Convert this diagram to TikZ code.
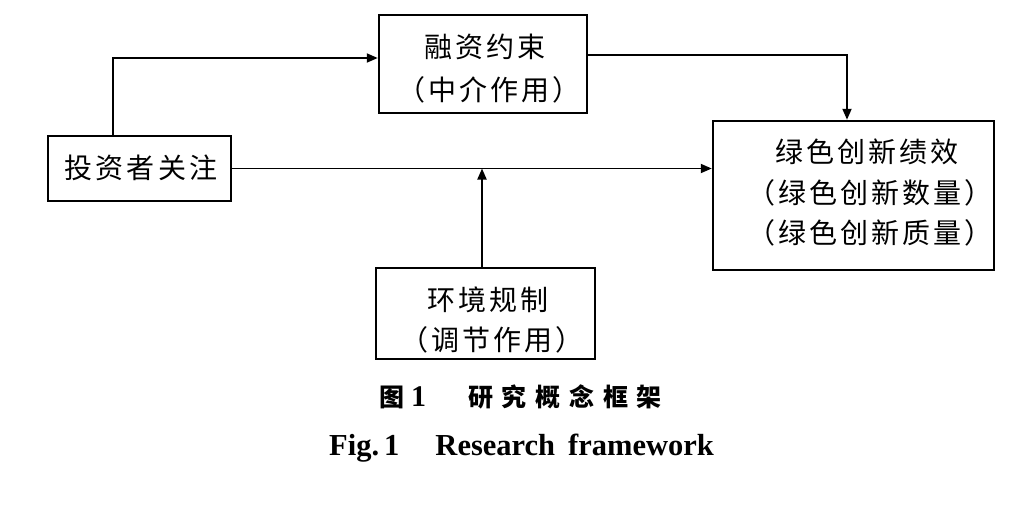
\documentclass[tikz,border=0pt]{standalone}
\usepackage{fontspec}
\setmainfont{Liberation Serif}
\newfontfamily\cjk[LetterSpace=11]{Noto Sans CJK SC}
\newfontfamily\cjkcap[LetterSpace=35]{Noto Sans CJK SC}
\usetikzlibrary{arrows.meta}
\begin{document}
\begin{tikzpicture}[x=1pt,y=-1pt,
  box/.style={draw, line width=2.5pt, inner sep=0pt},
  lbl/.style={inner sep=0pt, font=\cjk\fontsize{28}{32}\selectfont},
  arr/.style={line width=1.9pt, -{Triangle[length=11pt,width=9pt]}}]
\useasboundingbox (0,0) rectangle (1036,504);
% boxes
\node[box, minimum width=208pt, minimum height=98pt] (fin) at (483,64) {};
\node[box, minimum width=183pt, minimum height=65pt] (inv) at (139.5,168.5) {};
\node[box, minimum width=281pt, minimum height=149pt] (green) at (853.5,195.5) {};
\node[box, minimum width=219pt, minimum height=91pt] (env) at (485.5,313.5) {};
% labels
\node[lbl] (fin1) at (485,47) {融资约束};
\node[lbl] (fin2) at (489,90) {（中介作用）};
\node[lbl] (inv1) at (141,168) {投资者关注};
\node[lbl] (gr1) at (867,152) {绿色创新绩效};
\node[lbl] (gr2) at (870,193) {（绿色创新数量）};
\node[lbl] (gr3) at (870,233) {（绿色创新质量）};
\node[lbl] (env1) at (488,300) {环境规制};
\node[lbl] (env2) at (492,340) {（调节作用）};
% connectors
\draw[arr] ([xshift=-26.5pt]inv.north) |- ([yshift=6pt]fin.west);
\draw[arr] ([yshift=9pt]fin.east) -| ([xshift=-6.5pt]green.north);
\draw[arr] (inv.east) -- (inv.east -| green.west);
\draw[arr] ([xshift=-3.5pt]env.north) -- ([xshift=-3.5pt]env.north |- inv.east);
% caption
\node[inner sep=0pt, anchor=west, font=\fontsize{25}{28}\selectfont\bfseries] (cap1) at (379,397)
  {{\cjk 图}\hspace{7pt}{\fontsize{30}{32}\selectfont 1}\hspace{42pt}{\cjkcap 研究概念框架}};
\node[inner sep=0pt, font=\fontsize{30.5}{34}\selectfont\bfseries] (cap2) at (521.5,448)
  {Fig.\,1\hspace{36pt}Research\hspace{13pt}framework};
\end{tikzpicture}
\end{document}
